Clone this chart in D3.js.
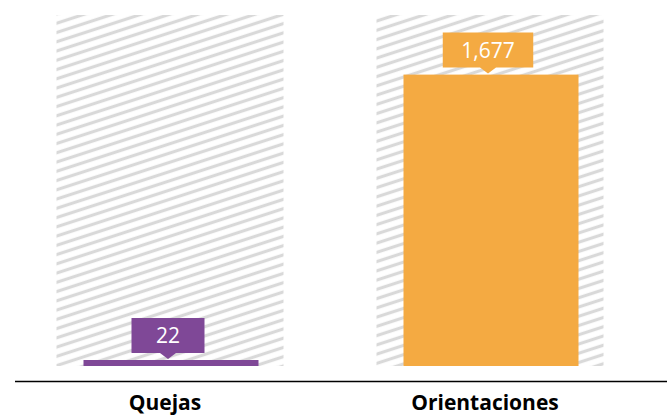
<!DOCTYPE html>
<html><head><meta charset="utf-8">
<script src="https://cdn.jsdelivr.net/npm/d3@7"></script>
<style>html,body{margin:0;padding:0;background:#fff;}svg{display:block;}</style>
</head><body>
<svg id="chart" width="667" height="417"></svg>
<script>
const categories = ["Quejas", "Orientaciones"];
const values = [22, 1677];
const colors = ["#7F4897", "#F4AA42"];
const yMax = 2020;

const svg = d3.select("#chart");
const W = 667, H = 417;
const baseY = 366, topY = 15;

const x = d3.scaleBand().domain(categories).range([10, 650]);
const y = d3.scaleLinear().domain([0, yMax]).range([baseY, topY]);
const fmt = d3.format(",");

// hatch pattern
const defs = svg.append("defs");
const pat = defs.append("pattern")
  .attr("id", "hatch").attr("patternUnits", "userSpaceOnUse")
  .attr("width", 20).attr("height", 8.8)
  .attr("patternTransform", "rotate(-18)");
pat.append("line").attr("x1", 0).attr("x2", 20).attr("y1", 4.4).attr("y2", 4.4)
  .attr("stroke", "#d9d9d9").attr("stroke-width", 3.2);

const bgW = 227, barW = 175;
// background (hatched) bars
svg.selectAll("rect.bg").data(categories).join("rect")
  .attr("class", "bg")
  .attr("x", d => x(d) + x.bandwidth()/2 - bgW/2)
  .attr("width", bgW)
  .attr("y", y(yMax))
  .attr("height", y(0) - y(yMax))
  .attr("fill", "url(#hatch)");

// value bars
svg.selectAll("rect.bar").data(values).join("rect")
  .attr("class", "bar")
  .attr("x", (d, i) => x(categories[i]) + x.bandwidth()/2 - barW/2 + 1)
  .attr("width", barW)
  .attr("y", d => Math.min(y(d), baseY - 6))
  .attr("height", d => Math.max(y(0) - y(d), 6))
  .attr("fill", (d, i) => colors[i]);

// labels with callout
values.forEach((v, i) => {
  const cx = x(categories[i]) + x.bandwidth()/2 - 2;
  const barTop = Math.min(y(v), baseY - 6);
  const g = svg.append("g");
  const t = g.append("text")
    .attr("x", cx).attr("text-anchor", "middle")
    .attr("font-family", "'Open Sans', Lato, sans-serif")
    .attr("font-size", 21).attr("fill", "#fff")
    .text(fmt(v));
  const tw = t.node().getComputedTextLength();
  const bw = Math.max(73, tw + 37), bh = 35;
  const boxBottom = barTop - 7;
  const boxTop = boxBottom - bh;
  g.insert("path", "text")
    .attr("d", `M${cx - bw/2},${boxTop} H${cx + bw/2} V${boxBottom} H${cx + 8} L${cx},${boxBottom + 6} L${cx - 8},${boxBottom} H${cx - bw/2} Z`)
    .attr("fill", colors[i]);
  t.attr("y", boxTop + bh/2 + 7.5);
});

// axis line
svg.append("line").attr("x1", 15).attr("x2", W).attr("y1", 381.5).attr("y2", 381.5)
  .attr("stroke", "#000").attr("stroke-width", 1.5);

// category labels
svg.selectAll("text.cat").data(categories).join("text")
  .attr("class", "cat")
  .attr("x", d => x(d) + x.bandwidth()/2 - 5)
  .attr("y", 410)
  .attr("text-anchor", "middle")
  .attr("font-family", "'Open Sans', Lato, sans-serif")
  .attr("font-weight", "bold")
  .attr("font-size", 21)
  .attr("fill", "#000")
  .text(d => d);
</script>
</body></html>
